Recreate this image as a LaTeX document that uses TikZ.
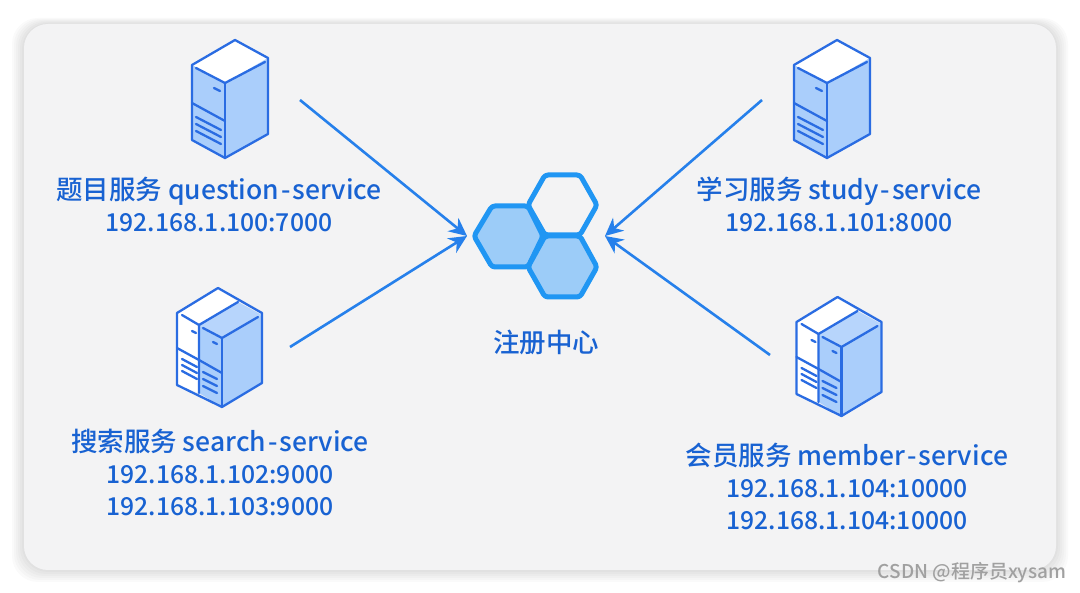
\documentclass[tikz,border=0pt]{standalone}
\usepackage{fontspec}
\setmainfont{Noto Sans CJK SC Medium}
\usepackage{xcolor}
\usepackage{tikz}
\usetikzlibrary{arrows.meta,positioning}
\definecolor{panelgray}{RGB}{243,243,244}
\definecolor{textblue}{RGB}{24,98,210}
\definecolor{arrowblue}{RGB}{38,128,235}
\definecolor{serverblue}{RGB}{42,108,226}
\definecolor{serverfill}{RGB}{170,206,251}
\definecolor{hexblue}{RGB}{32,150,243}
\definecolor{hexfill}{RGB}{156,204,248}
\definecolor{markgray}{RGB}{160,160,160}
\newcommand{\iptext}{\fontsize{24.7}{32}\selectfont}
\newcommand{\svchy}{\kern2pt-\kern2pt}
\tikzset{
	>=Stealth,
	panel/.style={
		rounded corners=24pt,
		fill=panelgray
	},
	svcnode/.style={
		text=textblue,
		align=center,
		font=\fontsize{26.5}{32}\selectfont,
		inner sep=0pt
	},
	conn/.style={
		-{Stealth[length=18pt,width=17pt]},
		line width=2.6pt,
		draw=arrowblue
	},
	hexcell/.style={
		draw=hexblue,
		line width=5pt,
		rounded corners=3pt,
		line join=round
	},
	srv/.style={
		draw=serverblue,
		line width=2.3pt,
		line join=round,
		line cap=round
	},
	towerone/.pic={
		% faces
		\fill[white] (-43,25) -- (0,0) -- (33,18) -- (-10,43) -- cycle;
		\fill[serverfill] (-43,25) -- (-10,43) -- (33,18) -- (33,94) -- (-10,118) -- (-43,100) -- cycle;
		% outline
		\draw[srv] (-43,25) -- (0,0) -- (33,18) -- (33,94) -- (-10,118) -- (-43,100) -- cycle;
		\draw[srv] (-39,28) -- (-10,43) -- (30,22);
		\draw[srv] (-10,43) -- (-10,118);
		\draw[srv] (-43,63) -- (-10,81);
		\draw[srv] (-21,48) -- (-15,51);
		\foreach \k in {0,7,14} {
			\draw[srv] (-39,77+\k) -- (-14,90+\k);
		}
	},
	towertwo/.pic={
		% faces
		\fill[white] (-41,25) -- (0,0) -- (20,14) -- (-19,37) -- (-19,105) -- (-41,97) -- cycle;
		\fill[serverfill!85!white] (20,14) -- (44,27) -- (4,50) -- (-19,37) -- cycle;
		\fill[serverfill] (-19,37) -- (4,50) -- (44,27) -- (44,95) -- (4,119) -- (-19,105) -- cycle;
		% outline
		\draw[srv] (-41,25) -- (0,0) -- (44,25) -- (44,95) -- (4,119) -- (-41,97) -- cycle;
		\draw[srv] (20,14) -- (-19,37) -- (-19,105);
		\draw[srv] (-36,27) -- (-19,37);
		\draw[srv] (-15,40) -- (4,50) -- (40,29);
		\draw[srv] (4,50) -- (4,119);
		\draw[srv] (-41,60) -- (-19,72) -- (4,85);
		\draw[srv] (-26,43) -- (-22,45);
		\draw[srv] (-5,54) -- (-1,56);
		\foreach \k in {0,6,12} {
			\draw[srv] (-36,71+\k) -- (-21,79+\k);
		}
		\foreach \k in {0,7,14} {
			\draw[srv] (-15,84+\k) -- (-1,91+\k);
		}
	}
}

\begin{document}
\begin{tikzpicture}[x=1pt,y=-1pt]
	\useasboundingbox (0,0) rectangle (1080,593);
	
	% --- BACKGROUND PANEL ---
	\foreach \d in {12,10,...,2} {
		\fill[black,opacity=0.018,rounded corners=26pt] (24-\d,24-\d/2) rectangle (1056+\d,570+\d);
	}
	\fill[panel] (24,24) rectangle (1056,570);
	
	% --- SERVERS ---
	\pic at (235,40) {towerone};
	\pic at (837,40) {towerone};
	\pic at (218,288) {towertwo};
	\pic at (837.5,297) {towertwo};
	
	% --- SERVICE LABELS ---
	\node[svcnode] (question) at (219,204) {题目服务 question\svchy service\\{\iptext 192.168.1.100:7000}};
	\node[svcnode] (study) at (839,204) {学习服务 study\svchy service\\{\iptext 192.168.1.101:8000}};
	\node[svcnode] (search) at (220,472) {搜索服务 search\svchy service\\{\iptext 192.168.1.102:9000}\\{\iptext 192.168.1.103:9000}};
	\node[svcnode] (member) at (847,486) {会员服务 member\svchy service\\{\iptext 192.168.1.104:10000}\\{\iptext 192.168.1.104:10000}};
	
	% --- REGISTRY ---
	\draw[hexcell,fill=panelgray] (545,175) -- (580,175) -- (597,205) -- (580,235) -- (545,235) -- (528,205) -- cycle;
	\draw[hexcell,fill=hexfill] (492,206) -- (528,206) -- (543,236) -- (528,267) -- (492,267) -- (474,236) -- cycle;
	\draw[hexcell,fill=hexfill] (545,236) -- (580,236) -- (597,267) -- (580,297) -- (545,297) -- (528,267) -- cycle;
	\node[svcnode] (registry) at (546,342) {注册中心};
	
	% --- CONNECTIONS ---
	\coordinate (hubL) at (467,236);
	\coordinate (hubR) at (605,236);
	\coordinate (fromQuestion) at (300,100);
	\coordinate (fromSearch) at (290,347);
	\coordinate (fromStudy) at (762,100);
	\coordinate (fromMember) at (770,355);
	\draw[conn] (fromQuestion) -- (hubL);
	\draw[conn] (fromSearch) -- (hubL);
	\draw[conn] (fromStudy) -- (hubR);
	\draw[conn] (fromMember) -- (hubR);
	
	% --- WATERMARK ---
	\node[text=markgray,inner sep=0pt,font=\fontsize{19}{22}\selectfont] (mark) at (972,573) {CSDN @程序员xysam};
\end{tikzpicture}
\end{document}
